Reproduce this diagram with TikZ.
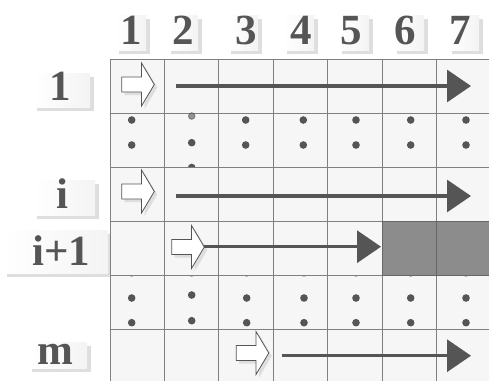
\documentclass[tikz,border=0pt]{standalone}
\usepackage{fontspec}
\setmainfont{Liberation Serif}
\usetikzlibrary{arrows.meta,shadows}
\definecolor{gridgray}{RGB}{128,128,128}
\definecolor{cellfill}{RGB}{246,246,246}
\definecolor{darkfill}{RGB}{140,140,140}
\definecolor{inkgray}{RGB}{85,85,85}
\definecolor{shadowgray}{RGB}{222,222,222}
\tikzset{
  cellbox/.style={rectangle,draw=gridgray,line width=0.9pt,fill=cellfill,minimum width=54.4pt,minimum height=54pt,inner sep=0pt},
  darkcell/.style={cellbox,fill=darkfill,draw=black!60},
  labelbox/.style={rectangle,inner sep=0pt,left color=white,right color=gray!9,draw=none,
    drop shadow={shadow xshift=3.5pt,shadow yshift=-3.5pt,fill=shadowgray,opacity=1}},
  labeltext/.style={inner sep=0pt,anchor=base,text=inkgray,font=\fontsize{43}{43}\selectfont\bfseries},
  dotnode/.style={circle,fill=inkgray,draw=inkgray,line width=1pt,inner sep=0pt,minimum size=6.5pt},
  longarrow/.style={draw=inkgray,line width=3.3pt,-{Triangle[length=24pt,width=32pt]}},
  harrow/.pic={
    \fill[shadowgray] (-13.3,-4.5) -- (6.5,-4.5) -- (6.5,-18.5) -- (19.3,3) -- (6.5,24.5) -- (6.5,10.5) -- (-13.3,10.5) -- cycle;
    \draw[draw=inkgray,line width=0.8pt,fill=white] (-16.3,-7.5) -- (3.5,-7.5) -- (3.5,-21.5) -- (16.3,0) -- (3.5,21.5) -- (3.5,7.5) -- (-16.3,7.5) -- cycle;
  }
}
\begin{document}
\begin{tikzpicture}[x=1pt,y=-1pt]
\useasboundingbox (0,0) rectangle (489,380);
\fill[white] (0,0) rectangle (489,380);
% column label boxes and texts
\foreach \n/\bx/\tx in {1/115/131.7,2/167/183,3/227/246,4/283/301,5/338/351.7,6/393/405,7/448/460.5}{
  \node[labelbox,minimum width=31pt,minimum height=35pt,anchor=north west] (cb\n) at (\bx,15) {};
  \node[labeltext] (ct\n) at (\tx,44) {\n};
}
% row label boxes
\node[labelbox,minimum width=57pt,minimum height=34pt,anchor=north west] (rb1) at (33,73) {};
\node[labelbox,minimum width=62pt,minimum height=35pt,anchor=north west] (rbi) at (33,180) {};
\node[labelbox,minimum width=105pt,minimum height=43pt,anchor=north west] (rbj) at (3,230) {};
\node[labelbox,minimum width=59pt,minimum height=26pt,anchor=north west] (rbm) at (28,342) {};
\node[labeltext] (rt1) at (60,100) {1};
\node[labeltext] (rti) at (62.5,208) {i};
\node[labeltext] (rtj) at (61.5,265) {i+1};
\node[labeltext] (rtm) at (55.5,364) {m};
% rows 1, 2
\foreach \r in {1,2}{
  \foreach \c in {1,...,7}{
    \node[cellbox] (c\r\c) at ({110+54.4*(\c-0.5)},{59+54*(\r-0.5)}) {};
  }
}
% dots of row 2
\foreach \dx [count=\k] in {131.7,245.7,303.3,356,410.7,466}{
  \node[dotnode] (da\k) at (\dx,120) {};
  \node[dotnode] (db\k) at (\dx,145) {};
}
\node[dotnode,opacity=0.6] (dc1) at (191.7,116) {};
\node[dotnode] (dc2) at (191.7,142.7) {};
\node[dotnode] (dc3) at (191.7,167.5) {};
% row 3
\foreach \c in {1,...,7}{
  \node[cellbox] (c3\c) at ({110+54.4*(\c-0.5)},{59+54*2.5}) {};
}
% row 5
\foreach \c in {1,...,7}{
  \node[cellbox] (c5\c) at ({110+54.4*(\c-0.5)},{59+54*4.5}) {};
}
\foreach \dx [count=\k] in {131.7,246.7,304,356,410.7,466}{
  \node[dotnode] (dd\k) at (\dx,298) {};
  \node[dotnode] (de\k) at (\dx,322.7) {};
  \node[dotnode,opacity=0.5] (df\k) at (\dx,273) {};
}
\node[dotnode] (dg1) at (191.7,295) {};
\node[dotnode] (dg2) at (191.7,320.7) {};
\node[dotnode,opacity=0.5] (dg3) at (191.7,273) {};
% row 4
\foreach \c in {1,...,5}{
  \node[cellbox] (c4\c) at ({110+54.4*(\c-0.5)},{59+54*3.5}) {};
}
\foreach \c in {6,7}{
  \node[darkcell] (c4\c) at ({110+54.4*(\c-0.5)},{59+54*3.5}) {};
}
% row 6
\foreach \c in {1,...,7}{
  \node[cellbox] (c6\c) at ({110+54.4*(\c-0.5)},{59+54*5.5}) {};
}
% hollow arrows
\pic (h1) at (138,84.5) {harrow};
\pic (hi) at (138,191.5) {harrow};
\pic (hj) at (188,247) {harrow};
\pic (hm) at (252.5,353) {harrow};
% long arrows
\coordinate (s1) at (175.7,86);   \coordinate (e1) at (471,86);
\coordinate (si) at (175.7,196);  \coordinate (ei) at (471,196);
\coordinate (sj) at (204,246.7);  \coordinate (ej) at (381,246.7);
\coordinate (sm) at (281.7,355.7);\coordinate (em) at (471,355.7);
\draw[longarrow] (s1) -- (e1);
\draw[longarrow] (si) -- (ei);
\draw[longarrow] (sj) -- (ej);
\draw[longarrow] (sm) -- (em);
\end{tikzpicture}
\end{document}
